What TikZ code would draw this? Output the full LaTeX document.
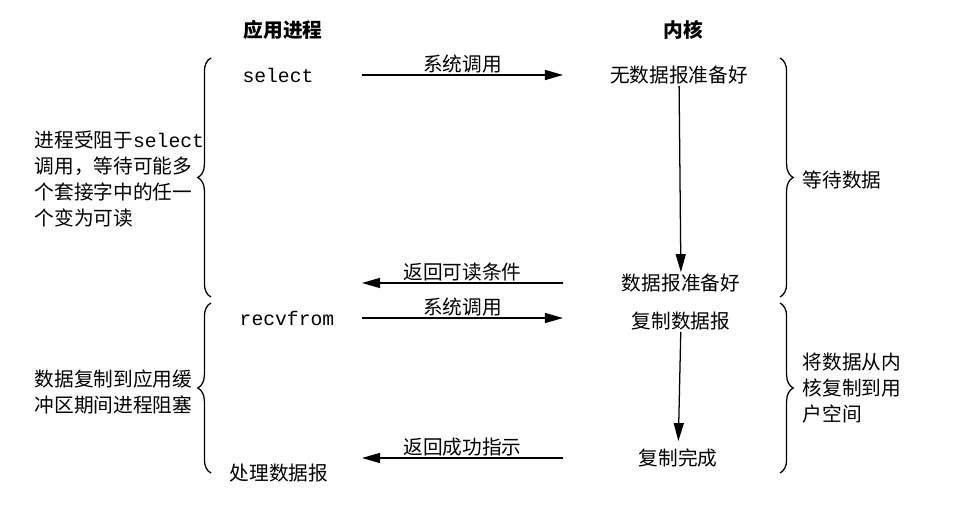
\documentclass[tikz,border=0pt]{standalone}
\usepackage{fontspec}
\setmainfont{Noto Sans CJK SC}
\setmonofont{Liberation Mono}
\usetikzlibrary{arrows.meta,decorations.pathreplacing}

\begin{document}
\begin{tikzpicture}[
    x=0.025cm, y=-0.025cm,
    every node/.style={inner sep=1pt, font=\fontsize{14}{18.5}\selectfont},
    hdr/.style={font=\fontsize{14}{18.5}\selectfont\bfseries},
    call/.style={font=\fontsize{14}{18.5}\selectfont\ttfamily},
    note/.style={align=left, anchor=west},
    arr/.style={-{Triangle[length=4.5mm,width=2.5mm]}, line width=0.9pt},
    brc/.style={decorate, decoration={brace, amplitude=3.3mm}, line width=0.9pt},
  ]
  \useasboundingbox (0,0) rectangle (956,506);
  % column headers
  \node[hdr] (app) at (283,30) {应用进程};
  \node[hdr] (kern) at (683,30) {内核};
  % columns where the horizontal arrows start and stop
  \coordinate (lx) at (362,0);
  \coordinate (rx) at (563,0);
  % waiting for data
  \node[call] (sel) at (278,75) {select};
  \node (nodata) at (679,75) {无数据报准备好};
  \node (ready) at (681,283) {数据报准备好};
  \draw[arr] (sel -| lx) -- node[above] {系统调用} (nodata -| rx);
  \draw[arr] (nodata) -- (ready);
  \draw[arr] (ready -| rx) -- node[above] {返回可读条件} (ready -| lx);
  % copying the datagram
  \node[call] (recv) at (287,318) {recvfrom};
  \node (copy) at (681,321) {复制数据报};
  \node (done) at (678,458) {复制完成};
  \node (proc) at (279,473) {处理数据报};
  \draw[arr] (recv -| lx) -- node[above] {系统调用} (recv -| rx);
  \draw[arr, shorten >=0.15cm] (copy) -- (done);
  \draw[arr] (done -| rx) -- node[above] {返回成功指示} (done -| lx);
  % braces and what they mean
  \draw[brc] (211,297) -- (211,58);
  \draw[brc] (780,58) -- (780,297);
  \draw[brc] (211,473) -- (211,303);
  \draw[brc] (780,303) -- (780,473);
  \node[note] (blockL) at (33,179) {进程受阻于\texttt{select}\\调用，等待可能多\\个套接字中的任一\\个变为可读};
  \node[note] (wait) at (801,180) {等待数据};
  \node[note] (copyL) at (33,392) {数据复制到应用缓\\冲区期间进程阻塞};
  \node[note] (copyR) at (801,388) {将数据从内\\核复制到用\\户空间};
\end{tikzpicture}
\end{document}
